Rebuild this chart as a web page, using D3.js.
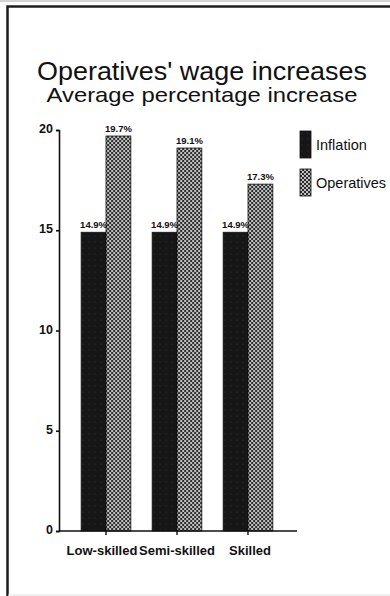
<!DOCTYPE html>
<html>
<head>
<meta charset="utf-8">
<script src="https://cdn.jsdelivr.net/npm/d3@7"></script>
<style>
  html, body { margin: 0; padding: 0; background: #fff; }
  svg { display: block; }
  text { font-family: "Liberation Sans", Arial, Helvetica, sans-serif; fill: #111; }
</style>
</head>
<body>
<svg id="chart" width="390" height="596"></svg>
<script>
// Wage increase data (percent)
const categories = ["Low-skilled", "Semi-skilled", "Skilled"];
const seriesNames = ["Inflation", "Operatives"];
const inflation = [14.9, 14.9, 14.9];
const operatives = [19.7, 19.1, 17.3];
const yTicks = [0, 5, 10, 15, 20];

const svg = d3.select("#chart");

// Patterns for the two series
const defs = svg.append("defs");
const pOp = defs.append("pattern")
  .attr("id", "pat-op").attr("patternUnits", "userSpaceOnUse")
  .attr("width", 4).attr("height", 4);
pOp.append("rect").attr("width", 4).attr("height", 4).attr("fill", "#2e2e2e");
pOp.append("circle").attr("cx", 1).attr("cy", 1).attr("r", 1.0).attr("fill", "#f0f0f0");
pOp.append("circle").attr("cx", 3).attr("cy", 3).attr("r", 1.0).attr("fill", "#f0f0f0");

const pIn = defs.append("pattern")
  .attr("id", "pat-in").attr("patternUnits", "userSpaceOnUse")
  .attr("width", 6).attr("height", 6);
pIn.append("rect").attr("width", 6).attr("height", 6).attr("fill", "#161616");
pIn.append("circle").attr("cx", 2).attr("cy", 2).attr("r", 0.6).attr("fill", "#3a3a3a");

const fills = { Inflation: "url(#pat-in)", Operatives: "url(#pat-op)" };

// Page frame
svg.append("line").attr("x1", 0).attr("x2", 390).attr("y1", 1).attr("y2", 1)
  .attr("stroke", "#c4c4c4").attr("stroke-width", 1.5);
svg.append("path").attr("d", "M7.5,600 V6.5 H395")
  .attr("fill", "none").attr("stroke", "#1e1e1e").attr("stroke-width", 2.5);
svg.append("line").attr("x1", 8).attr("x2", 390).attr("y1", 595).attr("y2", 595)
  .attr("stroke", "#e2e2e2").attr("stroke-width", 1);

// Titles
svg.append("text").attr("x", 202).attr("y", 80).attr("text-anchor", "middle")
  .style("font-size", "25px")
  .attr("textLength", 330).attr("lengthAdjust", "spacingAndGlyphs")
  .text("Operatives' wage increases");
svg.append("text").attr("x", 202).attr("y", 102).attr("text-anchor", "middle")
  .style("font-size", "21px")
  .attr("textLength", 311).attr("lengthAdjust", "spacingAndGlyphs")
  .text("Average percentage increase");

// Scales
const x0 = d3.scaleBand().domain(categories).range([70.5, 283.5])
  .paddingInner(0.3).paddingOuter(0.15);
const x1 = d3.scaleBand().domain(seriesNames).range([0, x0.bandwidth()]);
const y = d3.scaleLinear().domain([0, 20]).range([531, 130]);

const axisLeftX = 59;

// Y axis
const yAxis = svg.append("g").attr("transform", `translate(${axisLeftX},0)`)
  .call(d3.axisLeft(y).tickValues(yTicks).tickSize(3).tickPadding(3));
yAxis.select(".domain").attr("stroke", "#111").attr("stroke-width", 1.6);
yAxis.selectAll(".tick line").attr("stroke", "#111").attr("stroke-width", 1.6);
yAxis.selectAll(".tick text").style("font-size", "12.5px").style("font-weight", "bold")
  .attr("fill", "#111").attr("dy", "0.2em");

// Bars
const rows = categories.map((c, i) => ({
  cat: c,
  vals: [
    { key: "Inflation", v: inflation[i] },
    { key: "Operatives", v: operatives[i] }
  ]
}));

const groups = svg.append("g").selectAll("g").data(rows).join("g")
  .attr("transform", d => `translate(${x0(d.cat)},0)`);

groups.selectAll("rect").data(d => d.vals).join("rect")
  .attr("x", d => x1(d.key))
  .attr("y", d => y(d.v))
  .attr("width", x1.bandwidth())
  .attr("height", d => y(0) - y(d.v))
  .attr("fill", d => fills[d.key])
  .attr("stroke", "#111").attr("stroke-width", 0.8);

groups.selectAll("text.val").data(d => d.vals).join("text")
  .attr("class", "val")
  .attr("x", d => x1(d.key) + x1.bandwidth() / 2)
  .attr("y", d => y(d.v) - 4)
  .attr("text-anchor", "middle")
  .style("font-size", "9.5px").style("font-weight", "bold")
  .text(d => d.v.toFixed(1) + "%");

// X axis
const xAxis = svg.append("g").attr("transform", `translate(0,${y(0)})`);
xAxis.append("line").attr("x1", axisLeftX).attr("x2", 297)
  .attr("stroke", "#111").attr("stroke-width", 1.6);
xAxis.selectAll("line.tk").data(categories).join("line").attr("class", "tk")
  .attr("x1", d => x0(d) + x0.bandwidth() / 2).attr("x2", d => x0(d) + x0.bandwidth() / 2)
  .attr("y1", 0).attr("y2", 4).attr("stroke", "#111").attr("stroke-width", 1.4);
xAxis.selectAll("text").data(categories).join("text")
  .attr("x", (d, i) => x0(d) + x0.bandwidth() / 2 + [-4, 0, 2][i])
  .attr("y", 24).attr("text-anchor", "middle")
  .style("font-size", "13px").style("font-weight", "bold")
  .text(d => d);

// Legend
const legend = svg.append("g").selectAll("g").data(seriesNames).join("g")
  .attr("transform", (d, i) => `translate(300,${131 + i * 38})`);
legend.append("rect").attr("width", 11).attr("height", 27)
  .attr("fill", d => fills[d]).attr("stroke", "#111").attr("stroke-width", 0.8);
legend.append("text").attr("x", 16).attr("y", 19)
  .style("font-size", "14.5px").text(d => d);
</script>
</body>
</html>
